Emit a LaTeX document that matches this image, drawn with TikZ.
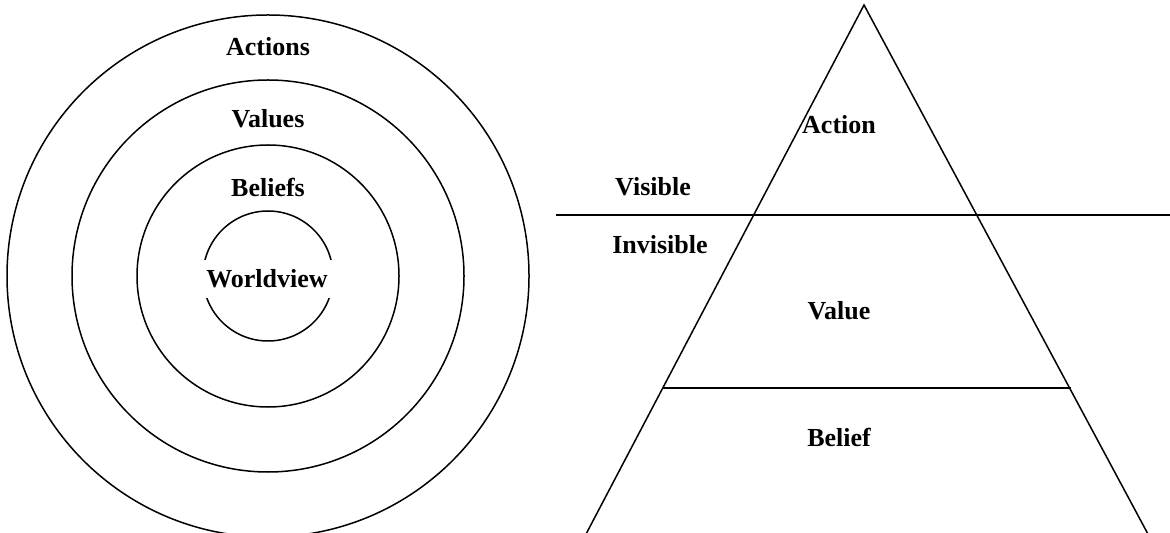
\documentclass[tikz,border=0pt]{standalone}
\usepackage{fontspec}
\setmainfont{Liberation Serif}
\begin{document}
\begin{tikzpicture}[x={(0.5pt,0)},y={(0,-0.5pt)},
  lbl/.style={font=\fontsize{13}{15}\selectfont\bfseries, inner sep=1pt},
  ln/.style={line width=0.75pt, black}]
\useasboundingbox (0,0) rectangle (1170,533);
\begin{scope}
\clip (0,0) rectangle (1170,533);
% circles
\coordinate (c) at (268,276);
\draw[ln] (c) circle[radius=130.5pt];
\draw[ln] (c) circle[radius=98pt];
\draw[ln] (c) circle[radius=65.5pt];
\draw[ln] (c) circle[radius=32.5pt];
\node[lbl] (actions) at (268,47) {Actions};
\node[lbl] (values) at (268,119) {Values};
\node[lbl] (beliefs) at (268,187) {Beliefs};
\node[lbl, fill=white, inner xsep=3pt, inner ysep=5pt] (world) at (267,279) {Worldview};
% triangle
\coordinate (apex) at (864,5);
\coordinate (bl) at (585,536);
\coordinate (br) at (1149,536);
\draw[ln] (bl) -- (apex) -- (br);
\coordinate (vl) at (556,215);
\coordinate (vr) at (1170,215);
\draw[ln] (vl) -- (vr);
\coordinate (ml) at (662.5,388);
\coordinate (mr) at (1070.5,388);
\draw[ln] (ml) -- (mr);
\node[lbl] (action) at (839,125) {Action};
\node[lbl] (visible) at (653,187) {Visible};
\node[lbl] (invisible) at (660,245) {Invisible};
\node[lbl] (value) at (839,311) {Value};
\node[lbl] (belief) at (839,437) {Belief};
\end{scope}
\end{tikzpicture}
\end{document}
